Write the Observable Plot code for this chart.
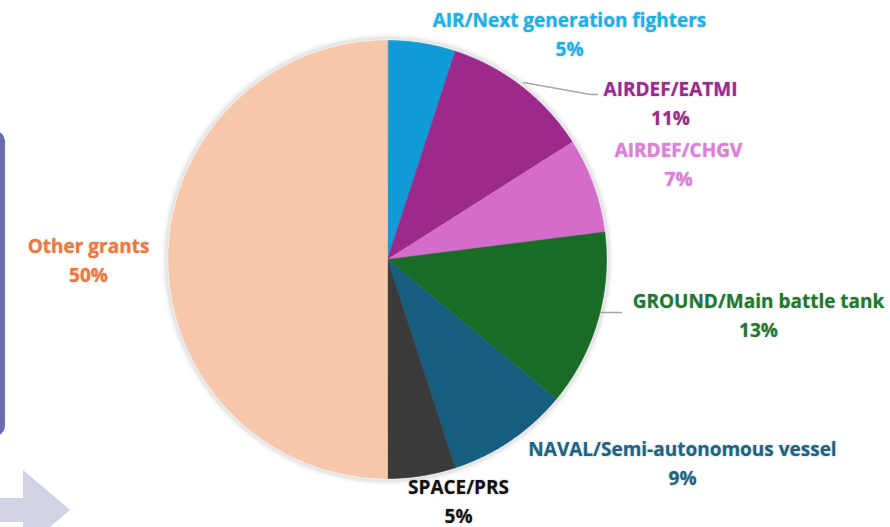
<!DOCTYPE html>
<html>
<head>
<meta charset="utf-8">
<script src="https://cdn.jsdelivr.net/npm/d3@7"></script>
<script src="https://cdn.jsdelivr.net/npm/@observablehq/plot@0.6"></script>
<style>
  html, body { margin: 0; padding: 0; background: #ffffff; }
  #wrap { position: relative; width: 890px; height: 527px; overflow: hidden; font-family: "Open Sans", sans-serif; }
  #box { position: absolute; left: -30px; top: 130px; width: 25px; height: 297px; border: 5px solid #6a6daf; border-radius: 12px; background: #fff; }
  #arrow { position: absolute; left: 0; top: 460px; }
  #chart { position: absolute; left: 0; top: 0; }
  #chart text { text-shadow: 0 0 2px rgba(0,0,0,0.3); }
</style>
</head>
<body>
<div id="wrap">
  <div id="box"></div>
  <svg id="arrow" width="80" height="67"><polygon points="0,38 23,38 23,10 70,50 23,90 23,62 0,62" fill="#d0d2e5"/></svg>
  <div id="chart"></div>
</div>
<script>
// ---- data ----
const categories = ["AIR/Next generation fighters", "AIRDEF/EATMI", "AIRDEF/CHGV", "GROUND/Main battle tank", "NAVAL/Semi-autonomous vessel", "SPACE/PRS", "Other grants"];
const shares = [5, 11, 7, 13, 9, 5, 50];

// ---- styles ----
const sliceColors = ["#0f9bd5", "#9c2a8d", "#d46dc9", "#1a6b26", "#165e7f", "#3a3a3a", "#f6c7ab"];
const labelColors = ["#16b3ea", "#9c2a8d", "#e07ddd", "#1c7a30", "#1a6585", "#111111", "#f07a3a"];

// ---- layout ----
const W = 890, H = 527, CX = 387, CY = 259, R = 219;
// label block centres, pixel coordinates
const labelPos = [[569, 32], [670, 101], [678, 162], [758, 313], [682, 461], [458, 499], [88, 258]];
const leaders = [
  {name: "AIRDEF/EATMI", pts: [[523, 82], [590, 94], [597, 94]]},
  {name: "GROUND/Main battle tank", pts: [[600, 312], [621, 312]]}
];

const rows = categories.map((c, i) => ({name: c, value: shares[i], color: sliceColors[i], labelColor: labelColors[i]}));
const arcs = d3.pie().sort(null).value(d => d.value)(rows);

// slice polygons derived from the pie layout
const slicePts = [];
for (const a of arcs) {
  slicePts.push({name: a.data.name, x: 0, y: 0});
  const n = Math.max(8, Math.ceil((a.endAngle - a.startAngle) / 0.01));
  for (let k = 0; k <= n; k++) {
    const t = a.startAngle + (a.endAngle - a.startAngle) * k / n;
    slicePts.push({name: a.data.name, x: R * Math.sin(t), y: R * Math.cos(t)});
  }
}

const labels = rows.map((d, i) => ({
  text: d.name + "\n" + d.value + "%",
  x: labelPos[i][0] - CX,
  y: CY - labelPos[i][1],
  color: d.labelColor
}));

const leaderPts = leaders.flatMap(l => l.pts.map(p => ({name: l.name, x: p[0] - CX, y: CY - p[1]})));

const chart = Plot.plot({
  width: W,
  height: H,
  margin: 0,
  x: {domain: [-CX, W - CX], range: [0, W], axis: null},
  y: {domain: [-(H - CY), CY], range: [H, 0], axis: null},
  color: {domain: categories, range: sliceColors},
  style: {background: "transparent", overflow: "visible"},
  marks: [
    Plot.line(slicePts, {x: "x", y: "y", z: "name", fill: "name", stroke: "name", strokeWidth: 0.6, curve: "linear-closed"}),
    Plot.line(leaderPts, {x: "x", y: "y", z: "name", stroke: "#a6a6a6", strokeWidth: 1.3}),
    Plot.text(labels, {x: "x", y: "y", text: "text", fill: "color", fontSize: 19, fontWeight: 700, lineHeight: 1.52, textAnchor: "middle", lineAnchor: "middle", fontFamily: "Open Sans"})
  ]
});
document.getElementById("chart").appendChild(chart);
const pieG = chart.querySelector('g[aria-label="line"]');
if (pieG) pieG.style.filter = "drop-shadow(0 0 1.5px #ffffff) drop-shadow(0 0 1.5px #ffffff) drop-shadow(0 0 2.5px rgba(0,0,0,0.35))";
</script>
</body>
</html>
